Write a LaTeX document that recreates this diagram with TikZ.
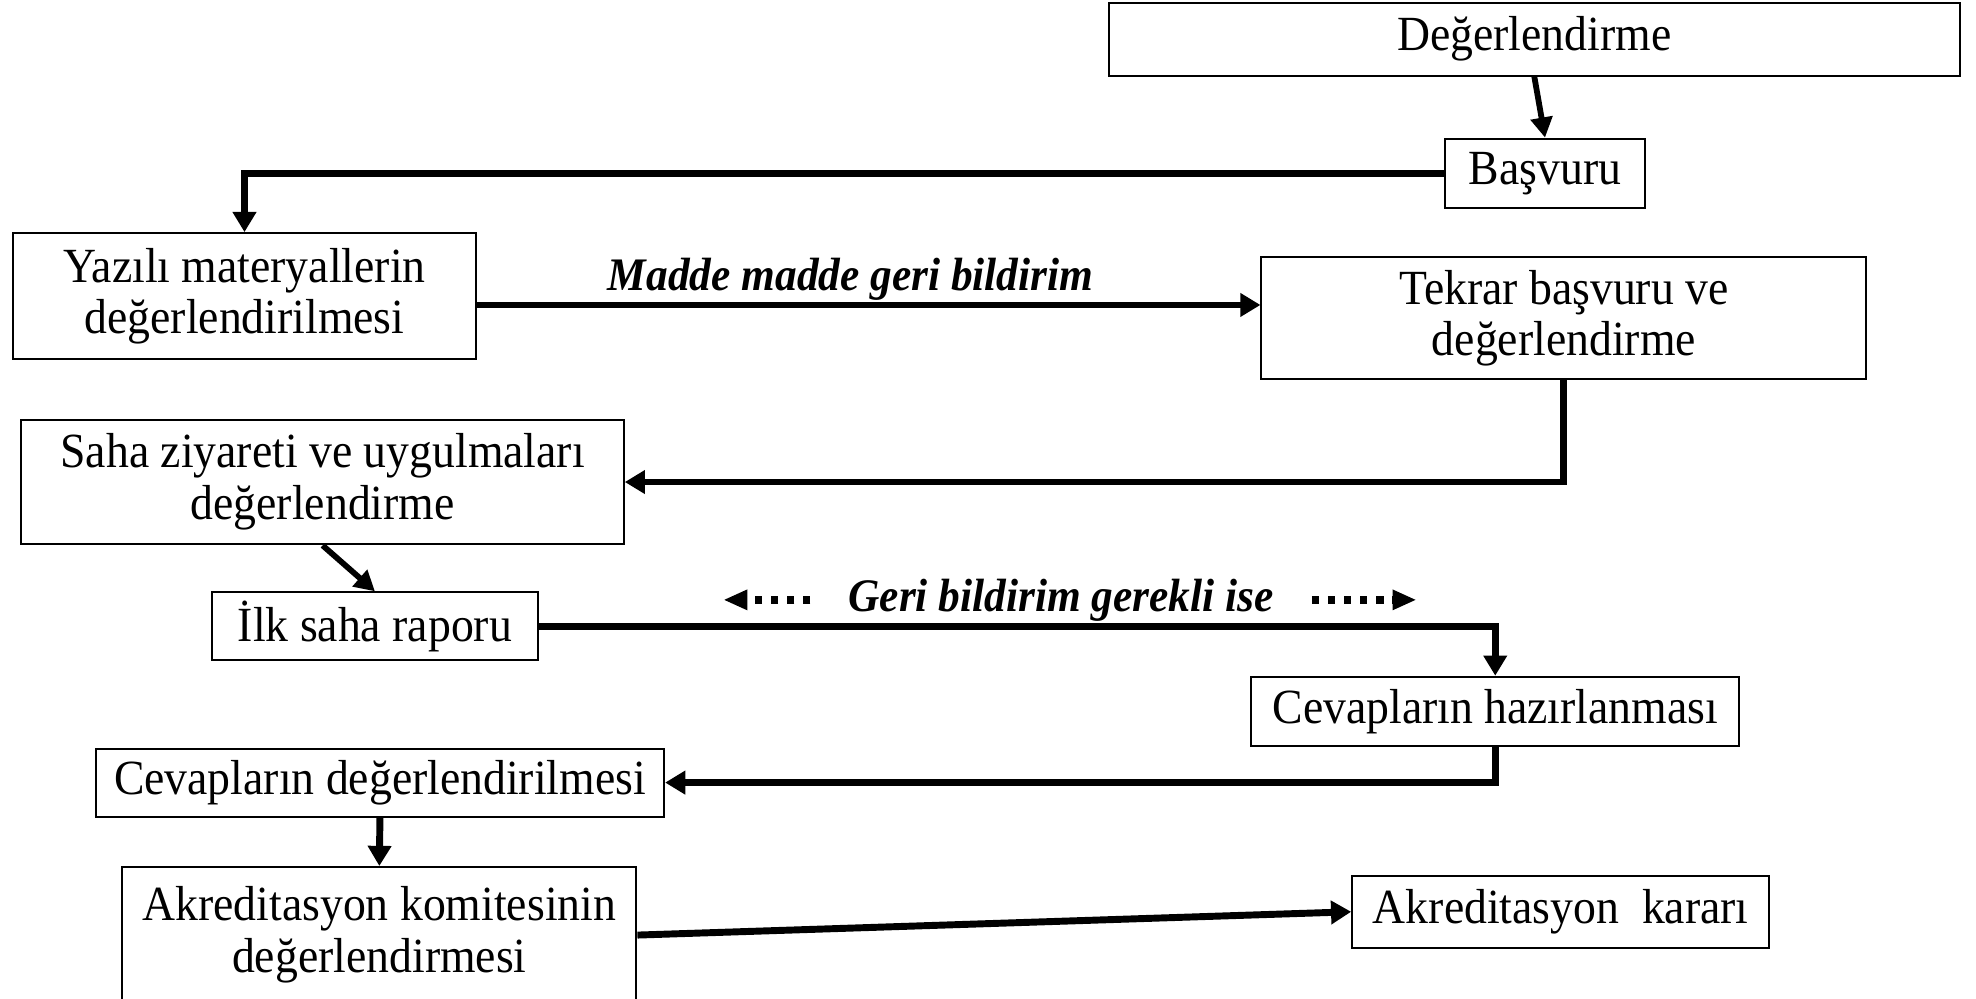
\documentclass[tikz,border=0pt]{standalone}
\usepackage{fontspec}
\setmainfont[FakeStretch=0.93]{Liberation Serif}
\usetikzlibrary{arrows.meta,calc}
\begin{document}
\begin{tikzpicture}[x=1pt,y=-1pt,
  box/.style={draw,line width=1.6pt,inner sep=0pt,align=center,
    font=\fontsize{39}{41}\selectfont},
  conn/.style={line width=5.5pt,-{Triangle[length=16pt,width=18pt]}},
  slim/.style={line width=4.6pt,-{Triangle[length=16pt,width=17pt]}},
  lbl/.style={inner sep=0pt,font=\fontsize{37}{38}\selectfont\bfseries\itshape},
  dotarrow/.style={line width=5.8pt,dash pattern=on 5.8pt off 7pt,-{Triangle[length=19pt,width=15pt]}}]
\useasboundingbox (0,0) rectangle (1568,792);
\node[box,minimum width=675pt,minimum height=58pt] (deg) at (1217.5,31) {Değerlendirme};
\node[box,minimum width=158pt,minimum height=55pt] (bas) at (1226,137.5) {Başvuru};
\node[box,minimum width=368pt,minimum height=100pt] (yaz) at (194,235) {Yazılı materyallerin\\değerlendirilmesi};
\node[box,minimum width=480pt,minimum height=97pt] (tek) at (1241,252.5) {Tekrar başvuru ve\\değerlendirme};
\node[box,minimum width=478pt,minimum height=99pt] (saha) at (256,382.5) {Saha ziyareti ve uygulmaları\\değerlendirme};
\node[box,minimum width=259pt,minimum height=54pt] (ilk) at (297.5,497) {İlk saha raporu};
\node[box,minimum width=387pt,minimum height=55pt] (ceh) at (1186.5,564.5) {Cevapların hazırlanması};
\node[box,minimum width=451pt,minimum height=54pt] (ced) at (301.5,621) {Cevapların değerlendirilmesi};
\node[box,minimum width=408pt,minimum height=108pt] (akk) at (301,742) {Akreditasyon komitesinin\\değerlendirmesi};
\node[box,minimum width=331pt,minimum height=57pt] (kar) at (1238.5,723.5) {Akreditasyon\ \ kararı};
\node[lbl] (mad) at (675,222) {Madde madde geri bildirim};
\node[lbl] (gb) at (842,476) {Geri bildirim gerekli ise};
\coordinate (dl) at (574,476);
\coordinate (dr) at (1124,476);
\draw[slim] (deg.south) -- (bas.north);
\draw[conn] (bas.west) -| (yaz.north);
\draw[conn] ([yshift=-7pt]yaz.east) -- ([yshift=-7pt]yaz.east -| tek.west);
\draw[conn] (tek.south) |- (saha.east);
\draw[slim] (saha.south) -- (ilk.north);
\draw[conn] (ilk.east) -| (ceh.north);
\draw[conn] (ceh.south) |- (ced.east);
\draw[conn] (ced.south) -- (akk.north);
\draw[conn] (akk.east) -- (kar.west);
\draw[dotarrow] ([xshift=-30pt]gb.west) -- (dl);
\draw[dotarrow] ([xshift=30pt]gb.east) -- (dr);
\end{tikzpicture}
\end{document}
